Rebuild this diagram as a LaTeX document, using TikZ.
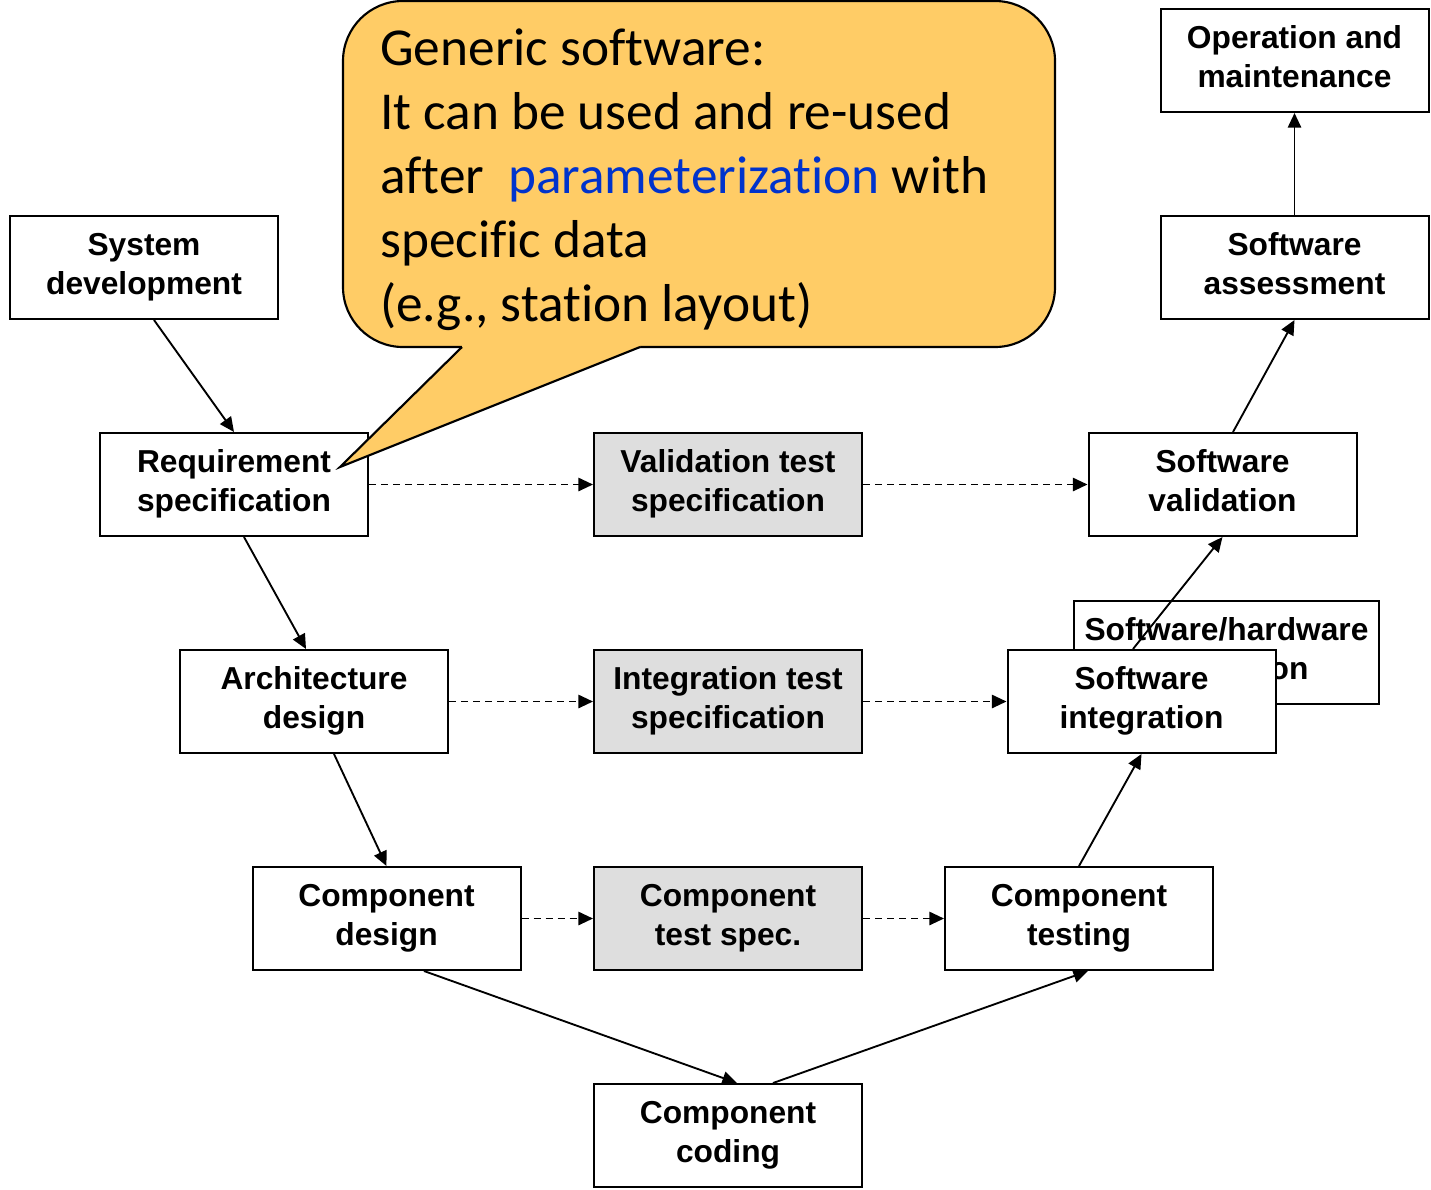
\documentclass[tikz,border=0pt]{standalone}
\usepackage{fontspec}
\setmainfont{Liberation Sans}
\newfontfamily\calfont[Ligatures=NoCommon]{Carlito}
\usetikzlibrary{arrows.meta,calc}
\definecolor{boxgray}{RGB}{222,222,222}
\definecolor{calloutfill}{RGB}{255,204,102}
\definecolor{paramblue}{RGB}{0,51,204}
\pgfdeclarelayer{back}
\pgfdeclarelayer{mid}
\pgfsetlayers{back,mid,main}
\newcommand{\stagetext}[2]{\strut#1\\\strut#2}
\begin{document}
\begin{tikzpicture}[x=0.75pt,y=-0.75pt,
  stage/.style={draw, line width=1.5pt, fill=white, minimum width=201pt, minimum height=77.25pt,
    inner sep=0pt, align=center, font=\fontsize{23.8pt}{29pt}\selectfont\bfseries},
  spec/.style={stage, fill=boxgray},
  flow/.style={line width=1.4pt, -{Triangle[length=11pt,width=10pt]}},
  trace/.style={flow, dash pattern=on 5.5pt off 3.5pt},
  bubble/.style={line width=1.6pt}]
\useasboundingbox (0,0) rectangle (1431,1189);

% stages
\node[stage] (sysdev) at (144,267.5) {\stagetext{System}{development}};
\node[stage] (req) at (234,484.5) {\stagetext{Requirement}{specification}};
\node[spec] (valspec) at (728,484.5) {\stagetext{Validation test}{specification}};
\node[stage] (swval) at (1222.5,484.5) {\stagetext{Software}{validation}};
\node[stage] (arch) at (314,701.5) {\stagetext{Architecture}{design}};
\node[spec] (intspec) at (728,701.5) {\stagetext{Integration test}{specification}};
\node[stage] (swint) at (1141.5,701.5) {\stagetext{Software}{integration}};
\begin{pgfonlayer}{back}
\node[stage, minimum width=228.75pt] (swhw) at (1226.5,652.5) {\stagetext{Software/hardware}{integration}};
\end{pgfonlayer}
\node[stage] (compdes) at (386.5,918.5) {\stagetext{Component}{design}};
\node[spec] (comptspec) at (728,918.5) {\stagetext{Component}{test spec.}};
\node[stage] (comptest) at (1079,918.5) {\stagetext{Component}{testing}};
\node[stage] (coding) at (728,1135.5) {\stagetext{Component}{coding}};
\node[stage] (swass) at (1294.5,267.5) {\stagetext{Software}{assessment}};
\node[stage] (op) at (1294.5,60.5) {\stagetext{Operation and}{maintenance}};

% flow arrows
\draw[flow] ($(sysdev.south)+(10,0)$) -- (req.north);
\draw[flow] ($(req.south)+(10,0)$) -- ($(arch.north)+(-8,0)$);
\draw[flow] ($(arch.south)+(20,0)$) -- (compdes.north);
\draw[flow] ($(compdes.south)+(37.5,0)$) -- ($(coding.north)+(9,0)$);
\draw[flow] ($(coding.north)+(45,0)$) -- ($(comptest.south)+(9,0)$);
\draw[flow] (comptest.north) -- (swint.south);
\begin{pgfonlayer}{mid}
\draw[flow] ($(swint.north)+(-8.5,0)$) -- (swval.south);
\end{pgfonlayer}
\draw[flow] ($(swval.north)+(10.5,0)$) -- (swass.south);
\draw[flow] (swass.north) -- (op.south);

% trace arrows
\draw[trace] (req.east) -- (valspec.west);
\draw[trace] (valspec.east) -- (swval.west);
\draw[trace] (arch.east) -- (intspec.west);
\draw[trace] (intspec.east) -- (swint.west);
\draw[trace] (compdes.east) -- (comptspec.west);
\draw[trace] (comptspec.east) -- (comptest.west);

% callout
\filldraw[bubble, fill=calloutfill, rounded corners=45pt] (343,1) rectangle (1055,347);
\fill[calloutfill] (340,467) -- (462,347) -- (462,342) -- (640,342) -- (640,347) -- cycle;
\draw[bubble, line join=miter] (462,347) -- (340,467) -- (640,347);
\node[anchor=north west, inner sep=0pt, align=left, font=\calfont\fontsize{40pt}{48pt}\selectfont] (note) at (380,29)
  {Generic software:\\It can be used and re-used\\after\ \ \textcolor{paramblue}{parameterization} with\\specific data\\(e.g., station layout)};
\end{tikzpicture}
\end{document}
